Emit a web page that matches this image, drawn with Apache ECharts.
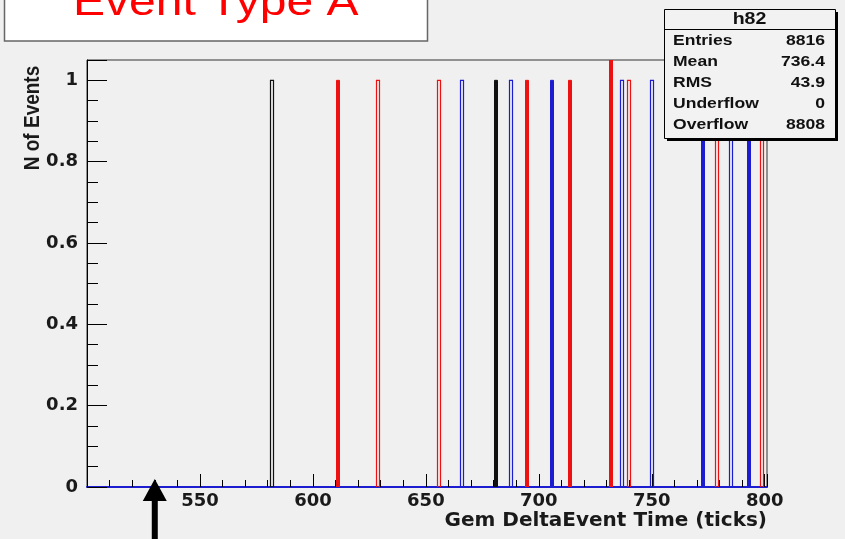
<!DOCTYPE html>
<html><head><meta charset="utf-8">
<script src="https://cdn.jsdelivr.net/npm/echarts@6/dist/echarts.min.js"></script>
<style>html,body{margin:0;padding:0;background:#f0f0f0;}#c{width:845px;height:539px;}</style>
</head><body><div id="c"></div>
<script>
// ---- data ----
const titleText = 'Event Type A';
const xAxisTitle = 'Gem DeltaEvent Time (ticks)';
const yAxisTitle = 'N of Events';
const xRange = [500, 801];
const yRange = [0, 1.05];
const binWidth = 1;
const blackHollowBins = [581];
const blackHollowCounts = [1];
const blackSolidBins = [680];
const blackSolidCounts = [1];
const redHollowBins = [628, 655, 739, 778, 798];
const redHollowCounts = [1, 1, 1, 1, 1];
const redSolidBins = [610, 694, 713, 731];
const redSolidCounts = [1, 1, 1, 2];
const blueHollowBins = [665, 687, 736, 749, 784];
const blueHollowCounts = [1, 1, 1, 1, 1];
const blueSolidBins = [705, 772, 792];
const blueSolidCounts = [1, 1, 1];
const statsName = 'h82';
const statsLabels = ['Entries', 'Mean', 'RMS', 'Underflow', 'Overflow'];
const statsValues = ['8816', '736.4', '43.9', '0', '8808'];
const arrowTarget = 530;

// ---- chart ----
const RED = '#ee1111', BLUE = '#1c1cd0', BLACK = '#111111';
const chart = echarts.init(document.getElementById('c'), null, {renderer: 'canvas'});

function pairs(xs, ys) { return xs.map((x, i) => [x, ys[i]]); }
function renderer(color, solid) {
  return function (params, api) {
    const x0 = api.value(0), v = api.value(1);
    const p0 = api.coord([x0, 0]);
    const p1 = api.coord([x0 + binWidth, v]);
    const left = Math.round(p0[0]) + 0.5;
    const w = Math.ceil(p1[0] - p0[0]);
    return {
      type: 'rect',
      shape: {x: left, y: p1[1], width: w, height: p0[1] - p1[1]},
      style: {fill: solid ? color : 'none', stroke: color, lineWidth: solid ? 1 : 1.2}
    };
  };
}
function hist(name, xs, ys, color, solid) {
  return {type: 'custom', name: name, clip: true, renderItem: renderer(color, solid),
          data: pairs(xs, ys), encode: {x: 0, y: 1}, silent: true};
}

const labelFont = {fontFamily: 'DejaVu Sans', fontWeight: 'bold', fontSize: 18, color: '#1a1a1a'};

const option = {
  backgroundColor: '#f0f0f0',
  animation: false,
  grid: {left: 87, right: 78, top: 60, bottom: 52, show: true, borderColor: '#333', borderWidth: 1, backgroundColor: 'transparent'},
  xAxis: {
    type: 'value', min: xRange[0], max: xRange[1], interval: 50,
    axisLine: {onZero: false, lineStyle: {color: BLUE, width: 2}},
    axisTick: {show: true, inside: true, length: 13, lineStyle: {color: '#000', width: 1}},
    minorTick: {show: true, splitNumber: 5, length: 7, lineStyle: {color: '#000', width: 1}},
    splitLine: {show: false},
    axisLabel: Object.assign({margin: 5, formatter: v => (v % 50 === 0 && v > xRange[0]) ? String(v) : ''}, labelFont),
    name: xAxisTitle, nameLocation: 'end', nameGap: 0,
    nameTextStyle: {fontFamily: 'DejaVu Sans', fontWeight: 'bold', fontSize: 20, color: '#1a1a1a', align: 'right', verticalAlign: 'top', padding: [24, 0, 0, 0]}
  },
  yAxis: {
    type: 'value', min: yRange[0], max: yRange[1], interval: 0.2,
    axisLine: {show: true, lineStyle: {color: '#000', width: 1}},
    axisTick: {show: true, inside: true, length: 20, lineStyle: {color: '#000', width: 1}},
    minorTick: {show: true, splitNumber: 4, length: 11, lineStyle: {color: '#000', width: 1}},
    splitLine: {show: false},
    axisLabel: Object.assign({margin: 9, formatter: v => Math.abs(v * 5 - Math.round(v * 5)) < 1e-9 ? String(+v.toFixed(2)) : ''}, labelFont)
  },
  series: [
    hist('black', blackHollowBins, blackHollowCounts, BLACK, false),
    hist('black2', blackSolidBins, blackSolidCounts, BLACK, true),
    hist('red', redHollowBins, redHollowCounts, RED, false),
    hist('red2', redSolidBins, redSolidCounts, RED, true),
    hist('blue', blueHollowBins, blueHollowCounts, BLUE, false),
    hist('blue2', blueSolidBins, blueSolidCounts, BLUE, true)
  ]
};
chart.setOption(option);

// ---- annotations: title box, stats box, axis title, arrow ----
const ax = chart.convertToPixel({xAxisIndex: 0}, arrowTarget);
const statsX = 664, statsY = 9, statsW = 171, statsH = 129, rowH = 21;
const graphics = [
  {type: 'rect', z: 10, shape: {x: 4.5, y: -5, width: 423, height: 46}, style: {fill: '#ffffff', stroke: '#666', lineWidth: 1.5}},
  {type: 'text', z: 11, x: 73, y: 4, scaleX: 1.2, style: {text: titleText, font: '40px "Liberation Sans", Arial, sans-serif', fill: '#ff0000', align: 'left', verticalAlign: 'middle'}},
  {type: 'text', z: 11, x: 33, y: 118, rotation: Math.PI / 2, scaleY: 1.15, style: {text: yAxisTitle, font: 'bold 19px "Liberation Sans", Arial, sans-serif', fill: '#1a1a1a', align: 'center', verticalAlign: 'middle'}},
  {type: 'rect', z: 20, shape: {x: statsX + 3, y: statsY + 3, width: statsW, height: statsH}, style: {fill: '#000'}},
  {type: 'rect', z: 21, shape: {x: statsX + 0.5, y: statsY + 0.5, width: statsW, height: statsH}, style: {fill: '#f2f2f2', stroke: '#000', lineWidth: 1}},
  {type: 'line', z: 22, shape: {x1: statsX, y1: statsY + 20.5, x2: statsX + statsW, y2: statsY + 20.5}, style: {stroke: '#000', lineWidth: 1}},
  {type: 'text', z: 22, x: statsX + statsW / 2, y: statsY + 10, scaleX: 1.15, style: {text: statsName, font: 'bold 17px "Liberation Sans", Arial, sans-serif', fill: '#111', align: 'center', verticalAlign: 'middle'}}
];
statsLabels.forEach((lab, i) => {
  const yy = 41 + i * rowH;
  graphics.push({type: 'text', z: 22, x: statsX + 9, y: yy, scaleX: 1.17, style: {text: lab, font: 'bold 15px "Liberation Sans", Arial, sans-serif', fill: '#111', align: 'left', verticalAlign: 'middle'}});
  graphics.push({type: 'text', z: 22, x: statsX + 161, y: yy, scaleX: 1.17, style: {text: statsValues[i], font: 'bold 15px "Liberation Sans", Arial, sans-serif', fill: '#111', align: 'right', verticalAlign: 'middle'}});
});
graphics.push({type: 'polygon', z: 30, shape: {points: [[ax, 479], [ax - 12, 501], [ax - 3, 501], [ax - 3, 545], [ax + 3, 545], [ax + 3, 501], [ax + 12, 501]]}, style: {fill: '#000'}});
chart.setOption({graphic: graphics});
</script></body></html>
